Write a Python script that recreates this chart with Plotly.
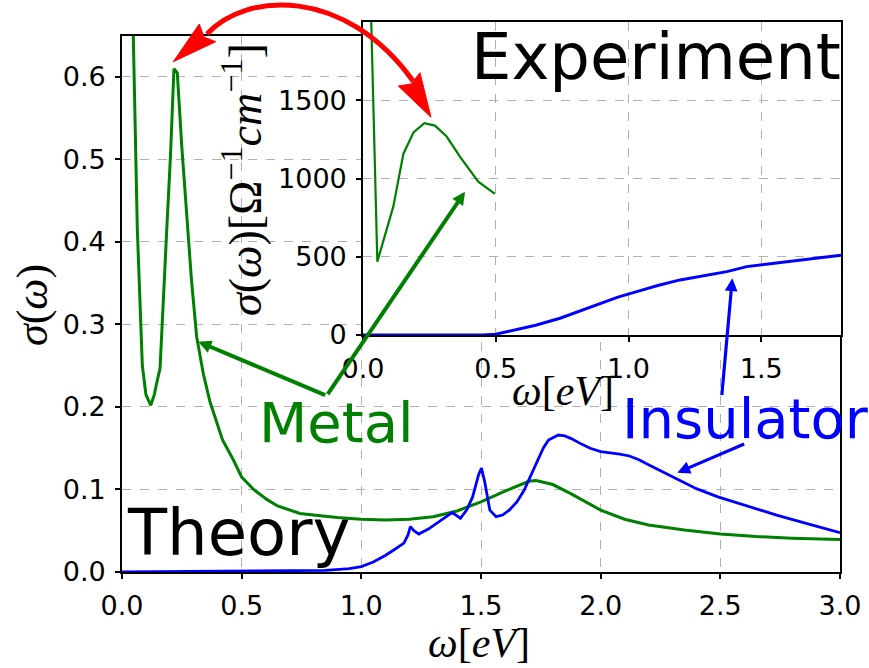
import plotly.graph_objects as go

# ---------------- data ----------------
theory_metal_w = [0.040, 0.047, 0.064, 0.085, 0.100, 0.120, 0.135, 0.145, 0.159, 0.187, 0.203, 0.217,
                  0.231, 0.250, 0.270, 0.290, 0.312, 0.340, 0.368, 0.420, 0.465, 0.500, 0.550, 0.605,
                  0.650, 0.744, 0.800, 0.900, 1.000, 1.100, 1.200, 1.300, 1.400, 1.500, 1.600, 1.700,
                  1.730, 1.800, 1.875, 1.950, 2.000, 2.100, 2.200, 2.350, 2.500, 2.650, 2.800, 3.000]
theory_metal_s = [0.750, 0.650, 0.415, 0.250, 0.215, 0.202, 0.215, 0.229, 0.247, 0.415, 0.507, 0.610,
                  0.605, 0.515, 0.430, 0.355, 0.285, 0.240, 0.206, 0.160, 0.136, 0.115, 0.100, 0.088,
                  0.080, 0.071, 0.069, 0.066, 0.064, 0.063, 0.064, 0.067, 0.074, 0.085, 0.098, 0.110,
                  0.111, 0.106, 0.095, 0.083, 0.075, 0.064, 0.057, 0.051, 0.046, 0.043, 0.041, 0.0395]

theory_ins_w = [0.00, 0.30, 0.50, 0.70, 0.85, 0.95, 1.000, 1.050, 1.100, 1.137, 1.178, 1.195, 1.205,
                1.220, 1.240, 1.280, 1.320, 1.360, 1.379, 1.400, 1.414, 1.440, 1.465, 1.490, 1.502,
                1.515, 1.537, 1.563, 1.590, 1.618, 1.650, 1.680, 1.710, 1.731, 1.760, 1.782, 1.823,
                1.850, 1.875, 1.920, 1.956, 2.000, 2.038, 2.080, 2.120, 2.160, 2.200, 2.260, 2.325,
                2.400, 2.490, 2.600, 2.735, 2.870, 3.000]
theory_ins_s = [0.000, 0.0005, 0.001, 0.0015, 0.002, 0.004, 0.0065, 0.012, 0.020, 0.027, 0.035, 0.045,
                0.055, 0.050, 0.046, 0.052, 0.060, 0.068, 0.072, 0.068, 0.065, 0.075, 0.091, 0.118,
                0.126, 0.110, 0.075, 0.067, 0.069, 0.075, 0.085, 0.099, 0.118, 0.132, 0.150, 0.160,
                0.166, 0.165, 0.162, 0.155, 0.150, 0.146, 0.1446, 0.143, 0.1406, 0.136, 0.130, 0.121,
                0.1115, 0.101, 0.091, 0.081, 0.069, 0.058, 0.0477]

exp_metal_w = [0.030, 0.054, 0.114, 0.152, 0.190, 0.231, 0.271, 0.315, 0.365, 0.434, 0.497]
exp_metal_s = [2070, 469, 820, 1157, 1294, 1353, 1338, 1268, 1140, 980, 901]

exp_ins_w = [0.00, 0.45, 0.50, 0.566, 0.65, 0.742, 0.82, 0.893, 0.96, 1.031, 1.11, 1.194, 1.28,
             1.37, 1.445, 1.53, 1.62, 1.71, 1.80]
exp_ins_s = [0, 0, 5, 28, 62, 107, 155, 203, 242, 277, 316, 352, 380, 405, 437, 455, 473, 492, 510]

main_xticks = [0.0, 0.5, 1.0, 1.5, 2.0, 2.5, 3.0]
main_yticks = [0.0, 0.1, 0.2, 0.3, 0.4, 0.5, 0.6]
inset_xticks = [0.0, 0.5, 1.0, 1.5]
inset_yticks = [0, 500, 1000, 1500]

# ---------------- layout helpers ----------------
W, H = 869, 668
def px(x):
    return x / W
def py(y):
    return 1 - y / H

GREEN = '#008000'
BLUE = '#0000ff'
RED = '#ff0000'
TICKFONT = dict(family='DejaVu Sans', size=27, color='black')

fig = go.Figure()
fig.add_trace(go.Scatter(x=theory_metal_w, y=theory_metal_s, mode='lines',
                         line=dict(color=GREEN, width=3), xaxis='x', yaxis='y', showlegend=False))
fig.add_trace(go.Scatter(x=theory_ins_w, y=theory_ins_s, mode='lines',
                         line=dict(color=BLUE, width=2.8), xaxis='x', yaxis='y', showlegend=False))
fig.add_trace(go.Scatter(x=exp_metal_w, y=exp_metal_s, mode='lines',
                         line=dict(color=GREEN, width=2.2), xaxis='x2', yaxis='y2', showlegend=False))
fig.add_trace(go.Scatter(x=exp_ins_w, y=exp_ins_s, mode='lines',
                         line=dict(color=BLUE, width=3), xaxis='x2', yaxis='y2', showlegend=False))

axis_common = dict(showline=True, linecolor='black', linewidth=1.6, mirror=True,
                   ticks='outside', ticklen=5, tickwidth=1.5, tickcolor='black',
                   showgrid=True, gridcolor='#b0b0b0', griddash='dash', gridwidth=1,
                   zeroline=False, tickfont=TICKFONT, ticklabelstandoff=4, automargin=False)

fig.update_layout(
    template='none',
    width=W, height=H,
    margin=dict(l=0, r=0, t=0, b=0, pad=0, autoexpand=False),
    paper_bgcolor='white', plot_bgcolor='white',
    xaxis=dict(domain=[px(122), px(840)], range=[0, 3], tickvals=main_xticks,
               tickformat='.1f', anchor='y', **axis_common),
    yaxis=dict(domain=[py(572), py(35.7)], range=[0, 0.65], tickvals=main_yticks,
               tickformat='.1f', anchor='x', **axis_common),
    xaxis2=dict(domain=[px(363), px(841)], range=[0, 1.8], tickvals=inset_xticks,
                tickformat='.1f', anchor='y2', **axis_common),
    yaxis2=dict(domain=[py(335), py(22)], range=[0, 2000], tickvals=inset_yticks,
                tickformat='d', anchor='x2', **axis_common),
)

ann = []
def text_ann(t, x, y, size, color, xanchor='left', angle=0, family='DejaVu Sans'):
    ann.append(dict(text=t, x=px(x), y=py(y), xref='paper', yref='paper', showarrow=False,
                    xanchor=xanchor, yanchor='middle', textangle=angle, borderpad=0,
                    font=dict(family=family, size=size, color=color)))

text_ann('Experiment', 470, 57, 64, 'black')
text_ann('Theory', 126, 533, 64, 'black')
text_ann('Metal', 258, 422, 56, GREEN)
text_ann('Insulator', 621, 418, 56, BLUE)

SERIF = 'Liberation Serif'
text_ann('<i>ω</i>[<i>eV</i>]', 479, 643, 42, 'black', xanchor='center', family=SERIF)
text_ann('<i>ω</i>[<i>eV</i>]', 563, 391, 42, 'black', xanchor='center', family=SERIF)
text_ann('<i>σ</i>(<i>ω</i>)', 32, 305, 44, 'black', xanchor='center', angle=-90, family=SERIF)
text_ann('<i>σ</i>(<i>ω</i>)[Ω<sup>−1</sup><i>cm</i><sup>−1</sup>]', 242, 180, 46, 'black',
         xanchor='center', angle=-90, family=SERIF)

def arrow(tail, head, color, width, size):
    ann.append(dict(text='', x=px(head[0]), y=py(head[1]), xref='paper', yref='paper',
                    ax=tail[0] - head[0], ay=tail[1] - head[1], axref='pixel', ayref='pixel',
                    showarrow=True, arrowhead=2, arrowsize=size, arrowwidth=width,
                    arrowcolor=color))

arrow((326.7, 395.7), (198.3, 341.7), GREEN, 4, 0.65)
arrow((326.7, 395.7), (465.0, 191.7), GREEN, 4, 0.65)
arrow((721.7, 396.7), (732.3, 278.3), BLUE, 3.2, 0.8)
arrow((745.7, 443.3), (677.3, 472.7), BLUE, 3.2, 0.8)

fig.update_layout(annotations=ann)

# red curved double arrow
def pt(x, y):
    return f'{px(x):.5f},{py(y):.5f}'

arc = f'M {pt(207, 34)} C {pt(245, -8)} {pt(345, -14)} {pt(413, 81)}'
head_left = f'M {pt(173.3, 61.7)} L {pt(199.3, 24)} L {pt(204, 37)} L {pt(215.7, 41.7)} Z'
head_right = f'M {pt(431, 117.3)} L {pt(398.3, 86)} L {pt(411, 84)} L {pt(420, 72.7)} Z'
shapes = [
    dict(type='path', path=arc, xref='paper', yref='paper', layer='above',
         line=dict(color=RED, width=5)),
    dict(type='path', path=head_left, xref='paper', yref='paper', layer='above',
         fillcolor=RED, line=dict(color=RED, width=1)),
    dict(type='path', path=head_right, xref='paper', yref='paper', layer='above',
         fillcolor=RED, line=dict(color=RED, width=1)),
]
fig.update_layout(shapes=shapes)

fig.write_html('out.html', config={'displayModeBar': False},
               post_script="document.body.style.margin='0';document.body.style.overflow='hidden';")
